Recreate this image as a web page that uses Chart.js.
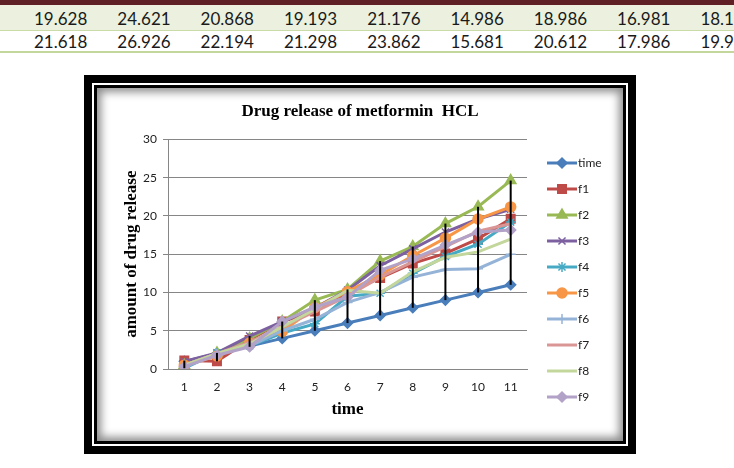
<!DOCTYPE html>
<html>
<head>
<meta charset="utf-8">
<script src="https://cdn.jsdelivr.net/npm/chart.js@4.4.1/dist/chart.umd.min.js"></script>
<style>
  body { margin: 0; width: 734px; height: 468px; background: #fff; position: relative; overflow: hidden; }
  .banda { position: absolute; left: 0; top: 0; width: 734px; height: 5px; background: #5e1f25; }
  .fila { position: absolute; left: 0; width: 734px; font-family: Lato, sans-serif; font-size: 17px; color: #1a1a1a; }
  .fila span { position: absolute; top: 50%; transform: translateY(-50%); }
  #fila1 { top: 5px; height: 25px; background: #ebf1de; border-bottom: 1px solid #c9dba6; }
  #fila2 { top: 31px; height: 20px; background: #fff; border-bottom: 2px solid #c3d69b; }
  .marco { position: absolute; left: 84px; top: 75px; width: 552px; height: 379px; box-sizing: border-box; background: #000; padding: 8px; }
  .hueco { width: 100%; height: 100%; box-sizing: border-box; background: #fff; padding: 2px; }
  .interior { width: 100%; height: 100%; box-sizing: border-box; border: 3px solid #000; background: #fff; box-shadow: inset 0 0 9px 4px rgba(0,0,0,0.45); }
  #grafica { position: absolute; left: 100px; top: 90px; }
</style>
</head>
<body>
<div class="banda"></div>
<div class="fila" id="fila1"></div>
<div class="fila" id="fila2"></div>
<div class="marco"><div class="hueco"><div class="interior"></div></div></div>
<canvas id="grafica" width="520" height="350"></canvas>

<script>
// =============================================
// DATOS
// =============================================

// filas de la tabla que asoma arriba
const tablaFila1 = ["19.628", "24.621", "20.868", "19.193", "21.176", "14.986", "18.986", "16.981", "18.1"];
const tablaFila2 = ["21.618", "26.926", "22.194", "21.298", "23.862", "15.681", "20.612", "17.986", "19.9"];

// eje x
const tiempos = ["1", "2", "3", "4", "5", "6", "7", "8", "9", "10", "11"];
const ticksY = [0, 5, 10, 15, 20, 25, 30];

// series
const serieTime = [1, 2, 3, 4, 5, 6, 7, 8, 9, 10, 11];
const serieF1 = [1.1, 1.0, 3.8, 6.2, 7.5, 9.9, 11.9, 13.8, 15.1, 17.0, 19.628];
const serieF2 = [0.5, 2.1, 4.0, 6.2, 9.0, 10.4, 14.1, 16.0, 19.0, 21.2, 24.621];
const serieF3 = [1.0, 2.1, 4.3, 6.2, 8.0, 10.3, 13.5, 15.7, 17.9, 19.6, 20.868];
const serieF4 = [0.1, 2.1, 3.0, 4.7, 5.9, 9.5, 9.9, 12.5, 14.7, 16.3, 19.193];
const serieF5 = [0.5, 1.7, 3.4, 4.9, 8.0, 10.1, 12.3, 14.8, 17.1, 19.6, 21.176];
const serieF6 = [0.5, 2.0, 3.0, 5.0, 6.5, 8.7, 10.0, 12.0, 13.0, 13.1, 14.986];
const serieF7 = [0.5, 2.0, 3.5, 5.5, 7.5, 9.5, 12.0, 14.0, 16.0, 18.0, 18.986];
const serieF8 = [0.5, 2.0, 3.3, 5.5, 7.8, 10.3, 9.9, 12.7, 14.6, 15.3, 16.981];
const serieF9 = [0.3, 1.8, 2.9, 6.2, 8.1, 9.4, 12.9, 14.4, 16.2, 17.9, 18.15];

// =============================================
// TABLA
// =============================================

function llenarFila(id, valores) {
  const fila = document.getElementById(id);
  valores.forEach((v, i) => {
    const s = document.createElement("span");
    s.textContent = v;
    s.style.left = (34 + 83.3 * i) + "px";
    fila.appendChild(s);
  });
}
llenarFila("fila1", tablaFila1);
llenarFila("fila2", tablaFila2);

// =============================================
// GRAFICA
// =============================================

function serie(nombre, datos, color, estilo, radio, orden) {
  return {
    label: nombre,
    data: datos,
    borderColor: color,
    backgroundColor: color,
    borderWidth: 3,
    pointStyle: estilo,
    pointRadius: radio,
    pointBorderWidth: 1.5,
    pointHoverRadius: radio,
    order: orden,
    tension: 0,
  };
}

const datasets = [
  serie("time", serieTime, "#4a7ebb", "rectRot", 5, 10),
  serie("f1", serieF1, "#be4b48", "rect", 6, 9),
  serie("f2", serieF2, "#98b954", "triangle", 6, 8),
  serie("f3", serieF3, "#7d60a0", "crossRot", 5, 7),
  serie("f4", serieF4, "#46aac5", "star", 5, 6),
  serie("f5", serieF5, "#f79646", "circle", 5, 5),
  serie("f6", serieF6, "#95b3d7", "cross", 5, 4),
  serie("f7", serieF7, "#d99694", false, 0, 3),
  serie("f8", serieF8, "#c3d69b", false, 0, 2),
  serie("f9", serieF9, "#b3a2c7", "rectRot", 5, 1),
];

// lineas verticales de maximo a minimo
const lineasMaxMin = {
  id: "lineasMaxMin",
  afterDatasetsDraw(chart) {
    const { ctx, scales } = chart;
    const sets = chart.data.datasets;
    ctx.save();
    ctx.strokeStyle = "#000";
    ctx.lineWidth = 2;
    chart.data.labels.forEach((lab, i) => {
      const vals = sets.map((d) => d.data[i]);
      const px = scales.x.getPixelForValue(i);
      ctx.beginPath();
      ctx.moveTo(px, scales.y.getPixelForValue(Math.max(...vals)));
      ctx.lineTo(px, scales.y.getPixelForValue(Math.min(...vals)));
      ctx.stroke();
    });
    ctx.restore();
  },
};

// leyenda estilo excel (linea + marcador)
const leyendaExcel = {
  id: "leyendaExcel",
  afterDraw(chart) {
    const ctx = chart.ctx;
    const x0 = chart.chartArea.right + 20;
    const y0 = 73;
    ctx.save();
    chart.data.datasets.forEach((d, i) => {
      const y = y0 + 26 * i;
      ctx.strokeStyle = d.borderColor;
      ctx.fillStyle = d.backgroundColor;
      ctx.lineWidth = 3;
      ctx.beginPath();
      ctx.moveTo(x0, y);
      ctx.lineTo(x0 + 30, y);
      ctx.stroke();
      if (d.pointStyle) {
        ctx.lineWidth = 1.5;
        Chart.helpers.drawPoint(ctx, { pointStyle: d.pointStyle, radius: d.pointRadius, rotation: 0, borderWidth: 1.5 }, x0 + 15, y);
      }
      ctx.fillStyle = "#222";
      ctx.font = "12px Lato, sans-serif";
      ctx.textBaseline = "middle";
      ctx.textAlign = "left";
      ctx.fillText(d.label, x0 + 31, y);
    });
    ctx.restore();
  },
};

new Chart(document.getElementById("grafica").getContext("2d"), {
  type: "line",
  data: { labels: tiempos, datasets: datasets },
  options: {
    responsive: false,
    animation: false,
    layout: { padding: 0 },
    plugins: {
      legend: { display: false },
      tooltip: { enabled: false },
      title: {
        display: true,
        text: "Drug release of metformin  HCL",
        color: "#000",
        font: { family: "'Liberation Serif', serif", size: 17, weight: "bold" },
        padding: { top: 11, bottom: 18 },
      },
    },
    scales: {
      x: {
        offset: true,
        grid: { display: false },
        border: { display: true, color: "#868686", width: 1 },
        ticks: { color: "#222", padding: 3, font: { family: "Lato, sans-serif", size: 12 } },
        title: {
          display: true,
          text: "time",
          color: "#000",
          font: { family: "'Liberation Serif', serif", size: 17, weight: "bold" },
          padding: { top: 0, bottom: 20 },
        },
        afterFit(scale) { scale.height = 71; },
      },
      y: {
        min: 0,
        max: 30,
        afterBuildTicks(scale) { scale.ticks = ticksY.map((v) => ({ value: v })); },
        grid: { color: "#868686", lineWidth: 1, drawTicks: true, tickLength: 5 },
        border: { display: true, color: "#868686", width: 1 },
        ticks: { color: "#222", padding: 6, font: { family: "Lato, sans-serif", size: 12 } },
        title: {
          display: true,
          text: "amount of drug release",
          color: "#000",
          font: { family: "'Liberation Serif', serif", size: 17, weight: "bold" },
          padding: { top: 21, bottom: 0 },
        },
        afterFit(scale) { scale.width = 68; },
      },
      // espacio reservado a la derecha para la leyenda
      hueco: {
        type: "linear",
        position: "right",
        display: true,
        grid: { display: false },
        border: { display: false },
        ticks: { display: false },
        afterFit(scale) { scale.width = 93; },
      },
    },
  },
  plugins: [lineasMaxMin, leyendaExcel],
});
</script>
</body>
</html>
